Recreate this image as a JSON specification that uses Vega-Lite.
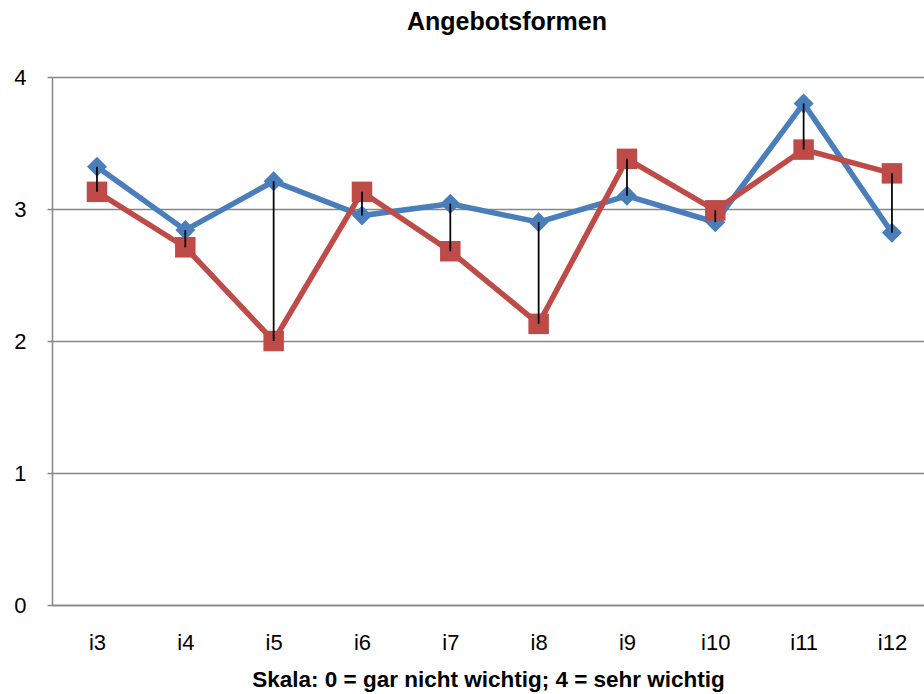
{
  "$schema": "https://vega.github.io/schema/vega-lite/v6.json",
  "width": 872,
  "height": 528,
  "autosize": "none",
  "padding": {"left": 52, "top": 77, "right": 0, "bottom": 89},
  "background": "white",
  "config": {
    "view": {"stroke": null},
    "font": "Liberation Sans",
    "axisY": {
      "grid": true, "gridColor": "#868686", "gridWidth": 1.5,
      "domainColor": "#868686", "domainWidth": 1.5,
      "tickColor": "#868686", "tickWidth": 1.5, "tickSize": 5,
      "labelFontSize": 22, "labelPadding": 21, "labelColor": "black"
    },
    "axisX": {
      "grid": false, "domainColor": "#868686", "domainWidth": 1.5,
      "ticks": false, "labelFontSize": 22, "labelPadding": 27, "labelAngle": 0,
      "labelColor": "black", "titleFontSize": 22.5, "titleFontWeight": "bold",
      "titlePadding": 15, "titleColor": "black"
    },
    "title": {"fontSize": 25, "fontWeight": "bold", "font": "Liberation Sans", "color": "black"}
  },
  "title": {"text": "Angebotsformen", "offset": 31, "dx": 19},
  "data": {
    "values": [
      {"item": "i3", "A": 3.32, "B": 3.13},
      {"item": "i4", "A": 2.84, "B": 2.71},
      {"item": "i5", "A": 3.21, "B": 2.00},
      {"item": "i6", "A": 2.95, "B": 3.13},
      {"item": "i7", "A": 3.04, "B": 2.68},
      {"item": "i8", "A": 2.90, "B": 2.13},
      {"item": "i9", "A": 3.10, "B": 3.38},
      {"item": "i10", "A": 2.90, "B": 2.99},
      {"item": "i11", "A": 3.80, "B": 3.45},
      {"item": "i12", "A": 2.82, "B": 3.27}
    ]
  },
  "encoding": {
    "x": {
      "field": "item", "type": "ordinal",
      "sort": ["i3", "i4", "i5", "i6", "i7", "i8", "i9", "i10", "i11", "i12"],
      "scale": {"type": "point", "padding": 0.436, "align": 0.584},
      "title": "Skala: 0 = gar nicht wichtig; 4 = sehr wichtig"
    }
  },
  "layer": [
    {
      "transform": [{"fold": ["A", "B"], "as": ["series", "value"]}],
      "mark": {"type": "line", "strokeWidth": 5.5},
      "encoding": {
        "y": {"field": "value", "type": "quantitative", "scale": {"domain": [0, 4]}, "title": null, "axis": {"values": [0, 1, 2, 3, 4], "format": "d"}},
        "color": {"field": "series", "type": "nominal", "scale": {"domain": ["A", "B"], "range": ["#4A7EBB", "#BE4B48"]}, "legend": null}
      }
    },
    {
      "transform": [{"fold": ["A", "B"], "as": ["series", "value"]}],
      "mark": {"type": "point", "filled": true, "opacity": 1},
      "encoding": {
        "y": {"field": "value", "type": "quantitative", "title": null, "axis": {"values": [0, 1, 2, 3, 4], "format": "d"}},
        "color": {"field": "series", "type": "nominal", "legend": null},
        "shape": {"field": "series", "type": "nominal", "scale": {"domain": ["A", "B"], "range": ["diamond", "square"]}, "legend": null},
        "size": {"field": "series", "type": "nominal", "scale": {"domain": ["A", "B"], "range": [400, 420]}, "legend": null}
      }
    },
    {
      "mark": {"type": "rule", "color": "black", "strokeWidth": 1.75},
      "encoding": {
        "y": {"field": "A", "type": "quantitative", "title": null, "axis": {"values": [0, 1, 2, 3, 4], "format": "d"}},
        "y2": {"field": "B"}
      }
    }
  ]
}
